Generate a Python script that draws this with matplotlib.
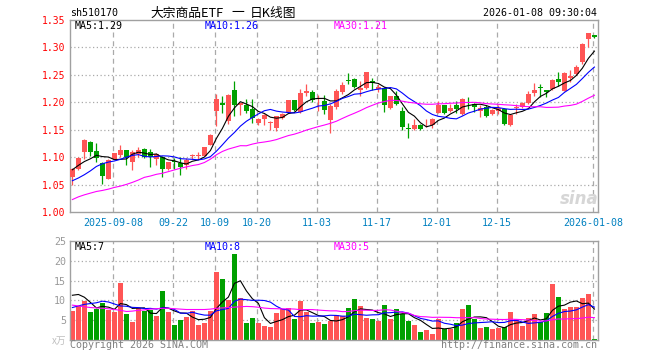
import numpy as np
import pandas as pd
import matplotlib
matplotlib.use("Agg")
import matplotlib.pyplot as plt

# --- data (sh510170, daily K line) ------------------------------------------
holidays = ["2025-10-01", "2025-10-02", "2025-10-03", "2025-10-06",
            "2025-10-07", "2025-10-08", "2026-01-01", "2026-01-02"]

open_ = [1.063, 1.079, 1.109, 1.128, 1.112, 1.090, 1.061, 1.097, 1.104, 1.1135,
         1.091, 1.1055, 1.115, 1.109, 1.096, 1.100, 1.0785, 1.093, 1.090, 1.085,
         1.102, 1.102, 1.1025, 1.1227, 1.184, 1.198, 1.1656, 1.222, 1.1945, 1.1945,
         1.1883, 1.1626, 1.1687, 1.1626, 1.1534, 1.1718, 1.181, 1.204, 1.1828, 1.2166,
         1.219, 1.2055, 1.2025, 1.1675, 1.192, 1.2196, 1.2399, 1.2423, 1.2227, 1.2264,
         1.2393, 1.2239, 1.2252, 1.1902, 1.2117, 1.184, 1.1534, 1.1521, 1.1595, 1.1577,
         1.1577, 1.181, 1.1945, 1.184, 1.1945, 1.1779, 1.2086, 1.1963, 1.184, 1.192,
         1.1779, 1.184, 1.1883, 1.1577, 1.1896, 1.192, 1.1982, 1.2178, 1.2282, 1.2221,
         1.2239, 1.2423, 1.2209, 1.2448, 1.2515, 1.273, 1.3147, 1.3221]
high = [1.080, 1.100, 1.133, 1.130, 1.126, 1.092, 1.096, 1.108, 1.123, 1.1135,
        1.113, 1.119, 1.117, 1.115, 1.107, 1.102, 1.0915, 1.098, 1.100, 1.098,
        1.106, 1.110, 1.118, 1.142, 1.2147, 1.2117, 1.2147, 1.2393, 1.199, 1.2055,
        1.2055, 1.1718, 1.178, 1.165, 1.175, 1.1798, 1.205, 1.205, 1.224, 1.2331,
        1.2227, 1.2129, 1.2129, 1.1963, 1.2239, 1.2362, 1.2534, 1.2436, 1.2393, 1.2558,
        1.2448, 1.2331, 1.227, 1.2117, 1.2209, 1.192, 1.1626, 1.1687, 1.1607, 1.170,
        1.1711, 1.2025, 1.1957, 1.1963, 1.2025, 1.2086, 1.2092, 1.1994, 1.1945, 1.1945,
        1.1883, 1.1945, 1.1896, 1.1773, 1.1963, 1.2006, 1.2209, 1.235, 1.2331, 1.2233,
        1.2423, 1.2546, 1.2558, 1.2595, 1.2681, 1.3086, 1.327, 1.3221]
low = [1.050, 1.077, 1.096, 1.102, 1.092, 1.051, 1.060, 1.096, 1.101, 1.085,
       1.077, 1.100, 1.099, 1.082, 1.086, 1.064, 1.077, 1.078, 1.0675, 1.078,
       1.096, 1.096, 1.1025, 1.122, 1.1564, 1.1797, 1.1607, 1.1748, 1.176, 1.1797,
       1.1626, 1.1577, 1.1577, 1.149, 1.1472, 1.1687, 1.180, 1.184, 1.181, 1.2117,
       1.2006, 1.184, 1.1779, 1.1442, 1.1883, 1.2147, 1.2331, 1.2252, 1.2117, 1.2239,
       1.2227, 1.219, 1.1822, 1.1883, 1.1945, 1.1503, 1.1344, 1.1503, 1.1503, 1.1552,
       1.1534, 1.1798, 1.1779, 1.1822, 1.181, 1.176, 1.1883, 1.1822, 1.1736, 1.1736,
       1.176, 1.1779, 1.1577, 1.1564, 1.1779, 1.1902, 1.1963, 1.2117, 1.2098, 1.2104,
       1.2227, 1.2301, 1.2209, 1.2362, 1.2497, 1.2699, 1.3006, 1.3172]
close = [1.078, 1.099, 1.132, 1.110, 1.098, 1.066, 1.095, 1.108, 1.1135, 1.101,
         1.109, 1.1135, 1.100, 1.100, 1.106, 1.078, 1.091, 1.092, 1.0816, 1.095,
         1.103, 1.103, 1.118, 1.141, 1.2055, 1.1945, 1.2129, 1.1945, 1.198, 1.184,
         1.1712, 1.1687, 1.176, 1.1644, 1.1748, 1.178, 1.204, 1.1853, 1.2166, 1.2202,
         1.2043, 1.2086, 1.1859, 1.1933, 1.2209, 1.2319, 1.2387, 1.2276, 1.2252, 1.2558,
         1.2344, 1.2282, 1.1945, 1.2117, 1.1963, 1.1546, 1.1515, 1.1595, 1.1521, 1.1589,
         1.1699, 1.1945, 1.181, 1.189, 1.1871, 1.2055, 1.2074, 1.192, 1.1902, 1.1748,
         1.1859, 1.1902, 1.1613, 1.1761, 1.1908, 1.1994, 1.2147, 1.2227, 1.2258, 1.219,
         1.2405, 1.2374, 1.2534, 1.2485, 1.265, 1.3067, 1.327, 1.319]
volume = [7.3, 8.6, 9.8, 7.0, 7.8, 9.3, 7.6, 7.0, 14.3, 6.5,
          4.5, 8.0, 7.3, 7.6, 6.0, 12.3, 7.0, 3.8, 5.0, 5.8,
          7.3, 3.8, 4.3, 7.3, 17.1, 15.4, 10.1, 21.6, 10.6, 4.3,
          5.5, 4.3, 3.5, 3.3, 6.8, 7.8, 8.1, 5.3, 9.8, 7.0,
          4.3, 4.5, 4.0, 4.9, 6.3, 6.0, 8.1, 10.3, 8.6, 5.5,
          5.3, 4.8, 8.8, 5.3, 7.8, 6.5, 4.8, 3.8, 2.0, 2.5,
          1.5, 5.3, 2.8, 2.8, 4.3, 7.8, 8.8, 5.3, 3.0, 3.3,
          2.8, 3.0, 3.3, 7.0, 5.3, 3.5, 5.5, 6.5, 4.5, 6.8,
          14.1, 10.8, 7.8, 8.3, 8.3, 10.6, 11.6, 0.25]

# moving-average values before a full window is on screen
ma5_head = [1.077, 1.085, 1.092, 1.097]
ma10_head = [1.057, 1.062, 1.068, 1.075, 1.083, 1.088, 1.091, 1.093, 1.096]
ma30_head = [1.0227, 1.0276, 1.0313, 1.0344, 1.0374, 1.0393, 1.0417, 1.0448, 1.0472,
             1.0503, 1.054, 1.0583, 1.0632, 1.0656, 1.0687, 1.0706, 1.0736, 1.0767,
             1.0798, 1.0822, 1.0847, 1.0865, 1.0902, 1.0963, 1.1043, 1.1104, 1.1147,
             1.1178, 1.1209]
vma5_head = [11.3, 11.5, 10.8, 9.5]
vma10_head = [8.2, 8.6, 9.0, 9.2, 9.4, 9.8, 9.6, 9.1, 8.6]
vma30_head = [8.8, 8.6, 8.4, 8.2, 8.1, 8.0, 7.9, 7.7, 7.5, 7.2, 7.3, 7.5, 7.6, 7.8,
              7.9, 8.0, 8.0, 7.9, 7.8, 7.7, 7.7, 7.7, 7.7, 7.8, 8.0, 8.1, 8.2, 8.3, 8.4]

tick_dates = ["2025-09-08", "2025-09-22", "2025-10-09", "2025-10-20", "2025-11-03",
              "2025-11-17", "2025-12-01", "2025-12-15", "2026-01-08"]
tick_labels = ["2025-09-08", "09-22", "10-09", "10-20", "11-03",
               "11-17", "12-01", "12-15", "2026-01-08"]

RED, GREEN = "#ff5555", "#00a000"
GRID = "#aaaaaa"
MONO = "DejaVu Sans Mono"
CJK = ["Noto Sans CJK SC", "DejaVu Sans"]


def moving_avg(vals, n, head):
    ma = pd.Series(vals, dtype=float).rolling(n).mean().to_numpy()
    ma[: n - 1] = head
    return ma


def fpos(x, y):
    return x / 660, 1 - y / 360


days = pd.bdate_range("2025-08-28", "2026-01-08")
days = days[~days.isin(pd.to_datetime(holidays))]
x = np.arange(len(days))
o, h, l, c = map(np.asarray, (open_, high, low, close))
v = np.asarray(volume)
up = c >= o
colors = np.where(up, RED, GREEN)
tick_x = np.array([days.get_loc(pd.Timestamp(d)) for d in tick_dates]) - 0.25

fig = plt.figure(figsize=(6.6, 3.6), dpi=100)
ax = fig.add_axes([70 / 660, 1 - 212 / 360, 528 / 660, 192 / 360])
axv = fig.add_axes([70 / 660, 1 - 340 / 360, 528 / 660, 99 / 360])

for a in (ax, axv):
    a.set_xlim(-0.4, len(x) - 0.4)
    for s in a.spines.values():
        s.set_color("#a0a0a0")
        s.set_linewidth(1.0)
    for t in tick_x:
        a.axvline(t, color=GRID, lw=0.9, ls=(0, (4, 3)), zorder=0)
    a.tick_params(length=0)

# price panel
ax.set_ylim(1.0, 1.35)
for yv in np.arange(1.05, 1.31, 0.05):
    ax.axhline(yv, color=GRID, lw=0.9, ls=(0, (1, 2)), zorder=0)
ax.vlines(x, l, h, colors=colors, lw=0.9, zorder=2)
body = np.maximum(np.abs(c - o), 0.0012)
ax.bar(x, body, bottom=np.minimum(o, c), width=0.8, color=colors, lw=0, zorder=3)
ax.plot(x, moving_avg(c, 5, ma5_head), color="black", lw=0.8, zorder=4)
ax.plot(x, moving_avg(c, 10, ma10_head), color="#0000ff", lw=0.8, zorder=4)
ax.plot(x, moving_avg(c, 30, ma30_head), color="#ff00ff", lw=0.8, zorder=4)

yt = np.arange(1.0, 1.351, 0.05)
ax.set_yticks(yt)
ax.set_yticklabels([f"{t:.2f}" for t in yt], color="red", family=MONO, fontsize=7)
ax.set_xticks(tick_x)
ax.set_xticklabels(tick_labels, color="#0080c0", family=MONO, fontsize=7.2)
ax.tick_params(axis="y", pad=3)
ax.tick_params(axis="x", pad=4)

# volume panel
axv.set_ylim(0, 25)
for yv in (5, 10, 15, 20):
    axv.axhline(yv, color=GRID, lw=0.9, ls=(0, (1, 2)), zorder=0)
axv.bar(x, v, width=0.8, color=colors, lw=0, zorder=2)
axv.plot(x, moving_avg(v, 5, vma5_head), color="black", lw=0.8, zorder=4)
axv.plot(x, moving_avg(v, 10, vma10_head), color="#0000ff", lw=0.8, zorder=4)
axv.plot(x, moving_avg(v, 30, vma30_head), color="#ff00ff", lw=0.8, zorder=4)
axv.set_yticks([5, 10, 15, 20, 25])
axv.set_yticklabels(["5", "10", "15", "20", "25"], color="#999999", family=MONO, fontsize=7.2)
axv.tick_params(axis="y", pad=3)
axv.set_xticks([])

# header and legends
fig.text(*fpos(70, 13), "sh510170", family=MONO, fontsize=7.2, va="center")
fig.text(*fpos(150, 13), "大宗商品ETF", family=CJK, fontsize=9.2, va="center")
fig.text(*fpos(238, 13), "一", family=CJK, fontsize=9.2, va="center", ha="center")
fig.text(*fpos(250, 13), "日K线图", family=CJK, fontsize=9.2, va="center")
fig.text(*fpos(597, 13), "2026-01-08 09:30:04", family=MONO, fontsize=7.2, va="center", ha="right")

for (px, txt, col) in [(75, "MA5:1.29", "black"), (205, "MA10:1.26", "#0000ff"),
                       (334, "MA30:1.21", "#ff00ff")]:
    fig.text(*fpos(px, 26), txt, family=MONO, fontsize=7.2, va="center", color=col)
for (px, txt, col) in [(75, "MA5:7", "black"), (205, "MA10:8", "#0000ff"),
                       (334, "MA30:5", "#ff00ff")]:
    fig.text(*fpos(px, 246.5), txt, family=MONO, fontsize=7.2, va="center", color=col)

fig.text(*fpos(66, 341), "x万", family=CJK, fontsize=7, va="center", ha="right", color="#c0c0c0")
fig.text(*fpos(70, 345.5), "Copyright 2026 SINA.COM", family=MONO, fontsize=7.2,
         va="center", color="#808080")
fig.text(*fpos(597, 345.5), "http://finance.sina.com.cn", family=MONO, fontsize=7.2,
         va="center", ha="right", color="#808080")
fig.text(*fpos(579, 199), "sina", fontsize=12, style="italic", weight="bold",
         color="#d6d6d6", ha="center", va="center")

fig.savefig("out.png", dpi=100)
